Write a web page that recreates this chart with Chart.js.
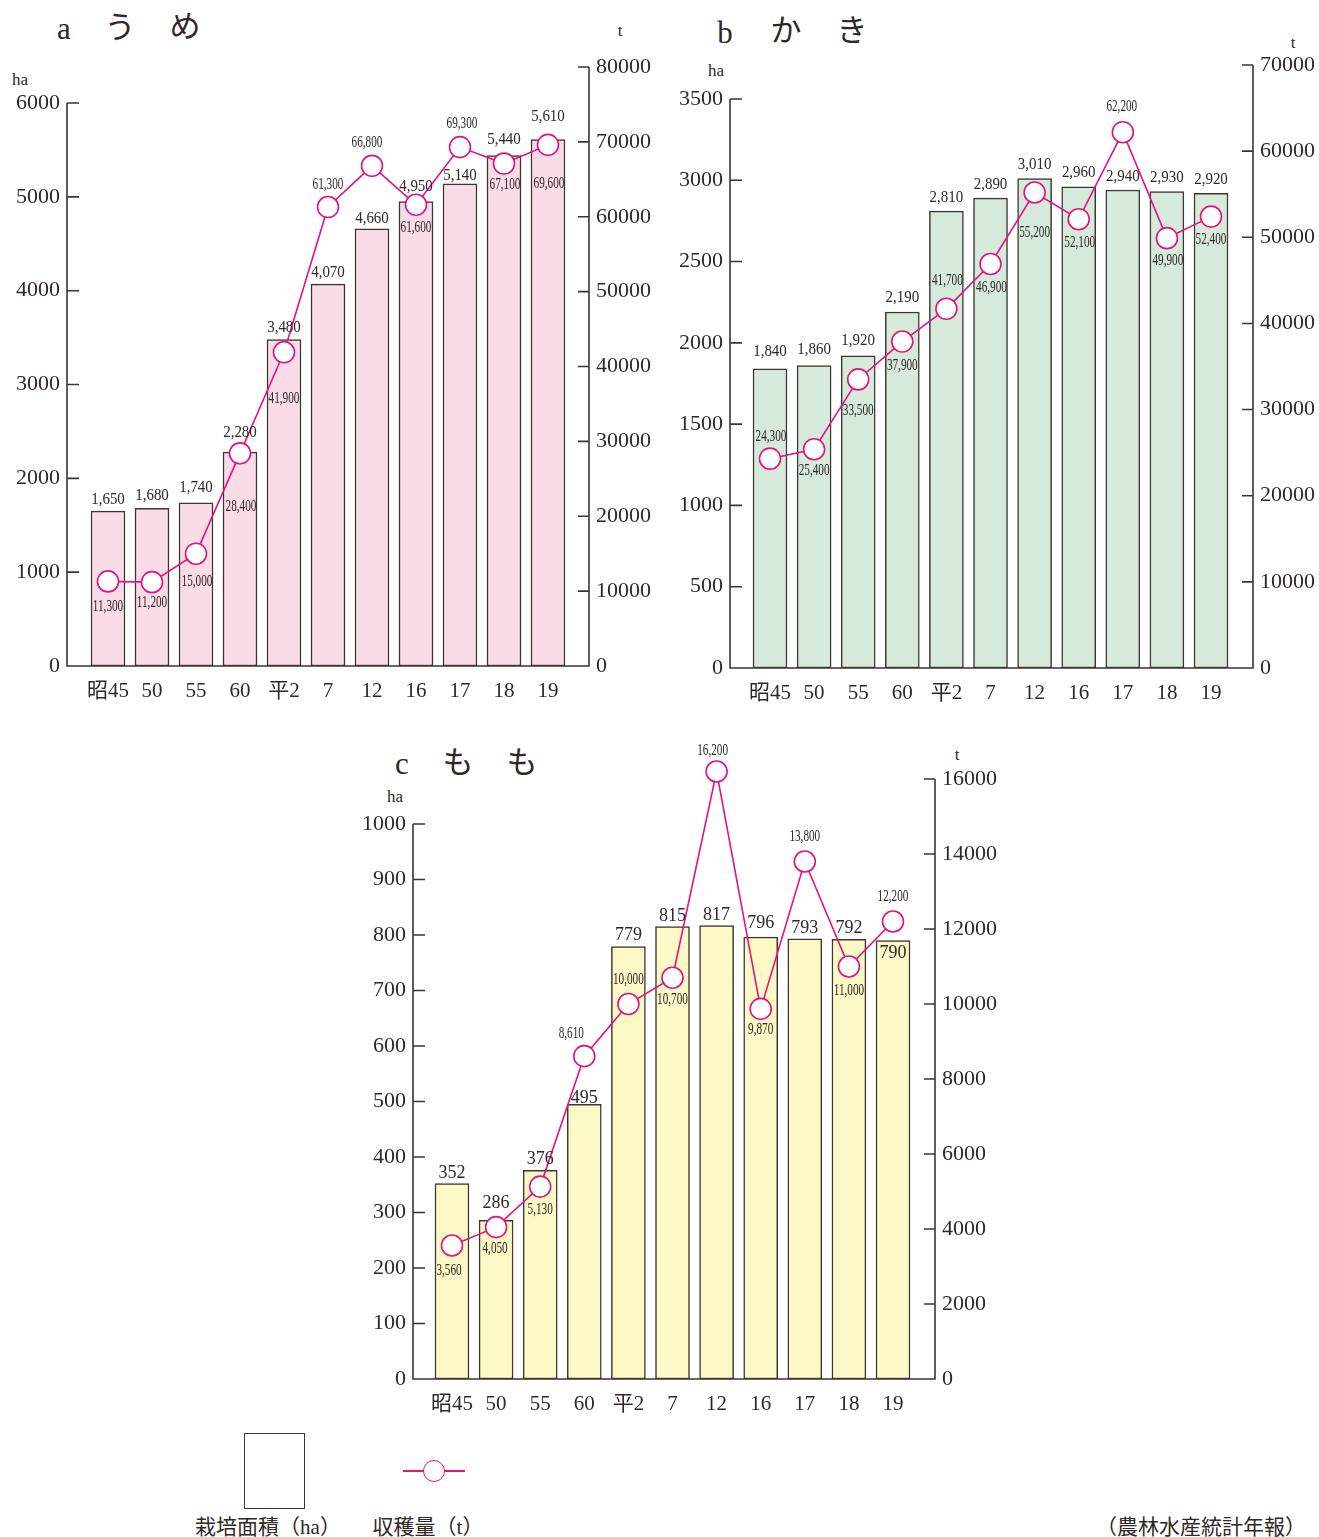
<!DOCTYPE html>
<html lang="ja">
<head>
<meta charset="utf-8">
<title>うめ・かき・もも 栽培面積と収穫量</title>
<script src="https://cdn.jsdelivr.net/npm/chart.js@4.4.1/dist/chart.umd.min.js"></script>
<style>
    html, body { margin: 0; padding: 0; background: #fff; }
    body {
        position: relative;
        width: 1319px;
        height: 1537px;
        overflow: hidden;
        font-family: "Liberation Serif", "Noto Sans CJK JP", serif;
        color: #2f2826;
    }
    canvas { position: absolute; }
    .txt {
        position: absolute;
        transform: translate(-50%, -50%);
        white-space: nowrap;
        line-height: 1;
    }
    .title { font-size: 31px; }
    .unit { font-size: 17px; }
    .note { font-size: 21px; }
    #legendBox {
        position: absolute; left: 244px; top: 1433px; width: 61px; height: 76px;
        box-sizing: border-box; border: 1.5px solid #3d3532; background: #fff;
    }
    #legendLine {
        position: absolute; left: 403px; top: 1470px; width: 62px; height: 2px; background: #e3137e;
    }
    #legendDot {
        position: absolute; left: 423px; top: 1460px; width: 22px; height: 22px;
        box-sizing: border-box; border: 1.6px solid #e3137e; border-radius: 50%; background: #fff;
    }
</style>
</head>
<body>
<div class="txt title" style="left:64px;top:28px">a</div>
<div class="txt title" style="left:120px;top:27px">う</div>
<div class="txt title" style="left:185px;top:26px">め</div>
<div class="txt unit" style="left:20px;top:79px">ha</div>
<div class="txt unit" style="left:620px;top:30px">t</div>

<div class="txt title" style="left:725px;top:32px">b</div>
<div class="txt title" style="left:786px;top:30px">か</div>
<div class="txt title" style="left:852px;top:30px">き</div>
<div class="txt unit" style="left:716px;top:70px">ha</div>
<div class="txt unit" style="left:1293px;top:42px">t</div>

<div class="txt title" style="left:402px;top:763px">c</div>
<div class="txt title" style="left:458px;top:762px">も</div>
<div class="txt title" style="left:522px;top:762px">も</div>
<div class="txt unit" style="left:395px;top:796px">ha</div>
<div class="txt unit" style="left:957px;top:754px">t</div>

<canvas id="umeChart" width="660" height="720" style="left:0;top:0;width:660px;height:720px"></canvas>
<canvas id="kakiChart" width="659" height="720" style="left:660px;top:0;width:659px;height:720px"></canvas>
<canvas id="momoChart" width="690" height="700" style="left:330px;top:720px;width:690px;height:700px"></canvas>

<div id="legendBox"></div>
<div id="legendLine"></div>
<div id="legendDot"></div>
<div class="txt note" style="left:268px;top:1527px">栽培面積（ha）</div>
<div class="txt note" style="left:428px;top:1527px">収穫量（t）</div>
<div class="txt note" style="left:1201px;top:1527px">（農林水産統計年報）</div>

<script>
// data
const years = ['昭45', '50', '55', '60', '平2', '7', '12', '16', '17', '18', '19'];

const umeArea = [1650, 1680, 1740, 2280, 3480, 4070, 4660, 4950, 5140, 5440, 5610];
const umeHarvest = [11300, 11200, 15000, 28400, 41900, 61300, 66800, 61600, 69300, 67100, 69600];
const umeAreaTicks = [0, 1000, 2000, 3000, 4000, 5000, 6000];
const umeHarvestTicks = [0, 10000, 20000, 30000, 40000, 50000, 60000, 70000, 80000];

const kakiArea = [1840, 1860, 1920, 2190, 2810, 2890, 3010, 2960, 2940, 2930, 2920];
const kakiHarvest = [24300, 25400, 33500, 37900, 41700, 46900, 55200, 52100, 62200, 49900, 52400];
const kakiAreaTicks = [0, 500, 1000, 1500, 2000, 2500, 3000, 3500];
const kakiHarvestTicks = [0, 10000, 20000, 30000, 40000, 50000, 60000, 70000];

const momoArea = [352, 286, 376, 495, 779, 815, 817, 796, 793, 792, 790];
const momoHarvest = [3560, 4050, 5130, 8610, 10000, 10700, 16200, 9870, 13800, 11000, 12200];
const momoAreaTicks = [0, 100, 200, 300, 400, 500, 600, 700, 800, 900, 1000];
const momoHarvestTicks = [0, 2000, 4000, 6000, 8000, 10000, 12000, 14000, 16000];

(function () {
    const AXIS_COLOR = '#3d3532';
    const TEXT_COLOR = '#2f2826';
    const LINE_COLOR = '#e3137e';
    const FONT_FAMILY = '"Liberation Serif", "Noto Sans CJK JP", serif';

    Chart.defaults.font.family = FONT_FAMILY;
    Chart.defaults.color = TEXT_COLOR;

    // axis lines with inward tick marks, left axis stops at its top tick
    const axisFramePlugin = {
        id: 'axisFrame',
        afterDatasetsDraw(chart) {
            const { ctx, chartArea, scales } = chart;
            const left = chartArea.left;
            const right = chartArea.right;
            const areaScale = scales.y;
            const harvestScale = scales.y1;
            const base = areaScale.getPixelForValue(0);
            const leftTop = areaScale.getPixelForValue(areaScale.ticks[areaScale.ticks.length - 1].value);
            const rightTop = harvestScale.getPixelForValue(harvestScale.ticks[harvestScale.ticks.length - 1].value);

            ctx.save();
            ctx.strokeStyle = AXIS_COLOR;
            ctx.lineWidth = 1.6;
            ctx.beginPath();
            ctx.moveTo(left, leftTop);
            ctx.lineTo(left, base);
            ctx.lineTo(right, base);
            ctx.lineTo(right, rightTop);
            areaScale.ticks.forEach(tick => {
                const y = areaScale.getPixelForValue(tick.value);
                ctx.moveTo(left, y);
                ctx.lineTo(left + 12, y);
            });
            harvestScale.ticks.forEach(tick => {
                const y = harvestScale.getPixelForValue(tick.value);
                ctx.moveTo(right - 11, y);
                ctx.lineTo(right, y);
            });
            ctx.stroke();
            ctx.restore();
        }
    };

    function drawText(ctx, text, x, y, font, scaleX) {
        ctx.save();
        ctx.translate(x, y);
        ctx.scale(scaleX, 1);
        ctx.font = font;
        ctx.fillText(text, 0, 0);
        ctx.restore();
    }

    const valueLabelPlugin = {
        id: 'valueLabels',
        afterDatasetsDraw(chart, args, opts) {
            const { ctx } = chart;
            const bars = chart.getDatasetMeta(0);
            const points = chart.getDatasetMeta(1);
            const barValues = chart.data.datasets[0].data;
            const pointValues = chart.data.datasets[1].data;

            ctx.save();
            ctx.fillStyle = TEXT_COLOR;
            ctx.textAlign = 'center';
            ctx.textBaseline = 'middle';

            bars.data.forEach((bar, i) => {
                const text = barValues[i].y.toLocaleString('en-US');
                drawText(ctx, text, bar.x, bar.y + opts.barDy[i], opts.barFont, opts.barScaleX);
            });

            points.data.forEach((point, i) => {
                const text = pointValues[i].y.toLocaleString('en-US');
                const shift = opts.pointShift[i];
                drawText(ctx, text, point.x + shift[0], point.y + shift[1], '16px ' + FONT_FAMILY, 0.7);
            });
            ctx.restore();
        }
    };

    function fixedTicks(values) {
        return scale => {
            scale.ticks = values.map(value => ({ value }));
        };
    }

    function fixedSize(key, size) {
        return scale => {
            scale[key] = size;
        };
    }

    function createCropChart(canvas, setup) {
        const barData = setup.area.map((value, i) => ({ x: i, y: value }));
        const lineData = setup.harvest.map((value, i) => ({ x: i, y: value }));

        return new Chart(canvas, {
            type: 'bar',
            data: {
                datasets: [
                    {
                        type: 'bar',
                        label: '栽培面積（ha）',
                        data: barData,
                        yAxisID: 'y',
                        backgroundColor: setup.barColor,
                        borderColor: AXIS_COLOR,
                        borderWidth: 1.5,
                        borderSkipped: false,
                        barThickness: 34,
                        order: 2
                    },
                    {
                        type: 'line',
                        label: '収穫量（t）',
                        data: lineData,
                        yAxisID: 'y1',
                        borderColor: LINE_COLOR,
                        borderWidth: 1.6,
                        pointRadius: 10.5,
                        pointBorderWidth: 1.6,
                        pointBackgroundColor: '#fff',
                        pointBorderColor: LINE_COLOR,
                        tension: 0,
                        clip: false,
                        order: 1
                    }
                ]
            },
            options: {
                responsive: false,
                animation: false,
                layout: {
                    padding: { top: setup.top, left: 0, right: 0, bottom: 0 }
                },
                scales: {
                    x: {
                        type: 'linear',
                        offset: false,
                        min: setup.xMin,
                        max: setup.xMax,
                        afterBuildTicks: fixedTicks(years.map((label, i) => i)),
                        afterFit: fixedSize('height', setup.xHeight),
                        grid: { display: false, drawTicks: false },
                        border: { display: false },
                        ticks: {
                            autoSkip: false,
                            maxRotation: 0,
                            padding: 13,
                            font: { size: 21 },
                            callback: value => years[value]
                        }
                    },
                    y: {
                        position: 'left',
                        min: 0,
                        max: setup.areaMax,
                        afterBuildTicks: fixedTicks(setup.areaTicks),
                        afterFit: fixedSize('width', setup.leftWidth),
                        grid: { display: false, drawTicks: false },
                        border: { display: false },
                        ticks: {
                            padding: 7,
                            font: { size: 22 },
                            callback: value => String(value)
                        }
                    },
                    y1: {
                        position: 'right',
                        min: 0,
                        max: setup.harvestMax,
                        afterBuildTicks: fixedTicks(setup.harvestTicks),
                        afterFit: fixedSize('width', setup.rightWidth),
                        grid: { display: false, drawTicks: false },
                        border: { display: false },
                        ticks: {
                            padding: 7,
                            font: { size: 22 },
                            callback: value => String(value)
                        }
                    }
                },
                plugins: {
                    legend: { display: false },
                    tooltip: { enabled: false },
                    valueLabels: {
                        barDy: setup.barDy,
                        barFont: setup.barFont,
                        barScaleX: setup.barScaleX,
                        pointShift: setup.pointShift
                    }
                }
            },
            plugins: [axisFramePlugin, valueLabelPlugin]
        });
    }

    createCropChart(document.getElementById('umeChart'), {
        area: umeArea,
        harvest: umeHarvest,
        areaTicks: umeAreaTicks,
        harvestTicks: umeHarvestTicks,
        barColor: '#f9dce8',
        top: 67,
        xHeight: 54,
        leftWidth: 67,
        rightWidth: 71,
        xMin: -0.932,
        xMax: 10.932,
        areaMax: 6384,
        harvestMax: 80000,
        barFont: '17px ' + FONT_FAMILY,
        barScaleX: 0.88,
        barDy: [-12, -13, -15, -20, -12, -12, -10, -15, -8, -16, -23],
        pointShift: [[0, 25], [0, 21], [1, 28], [1, 53], [0, 47], [0, -22], [-5, -23], [0, 23], [2, -23], [1, 21], [1, 39]]
    });

    createCropChart(document.getElementById('kakiChart'), {
        area: kakiArea,
        harvest: kakiHarvest,
        areaTicks: kakiAreaTicks,
        harvestTicks: kakiHarvestTicks,
        barColor: '#d6eadb',
        top: 65,
        xHeight: 52,
        leftWidth: 70,
        rightWidth: 66,
        xMin: -0.907,
        xMax: 10.952,
        areaMax: 3709,
        harvestMax: 70000,
        barFont: '17px ' + FONT_FAMILY,
        barScaleX: 0.88,
        barDy: [-17, -16, -15, -14, -14, -14, -14, -14, -13, -14, -14],
        pointShift: [[1, -22], [0, 22], [0, 31], [0, 24], [1, -28], [1, 24], [0, 40], [1, 24], [-1, -25], [1, 23], [0, 23]]
    });

    createCropChart(document.getElementById('momoChart'), {
        area: momoArea,
        harvest: momoHarvest,
        areaTicks: momoAreaTicks,
        harvestTicks: momoHarvestTicks,
        barColor: '#fdf9c6',
        top: 59,
        xHeight: 41,
        leftWidth: 83,
        rightWidth: 85,
        xMin: -0.884,
        xMax: 10.952,
        areaMax: 1081,
        harvestMax: 16000,
        barFont: '18px ' + FONT_FAMILY,
        barScaleX: 1,
        barDy: [-10, -17, -11, -6, -11, -10, -10, -14, -11, -11, 13],
        pointShift: [[-3, 25], [-1, 22], [0, 23], [-13, -22], [0, -24], [0, 22], [-4, -21], [0, 21], [0, -25], [0, 24], [0, -25]]
    });
})();
</script>
</body>
</html>
